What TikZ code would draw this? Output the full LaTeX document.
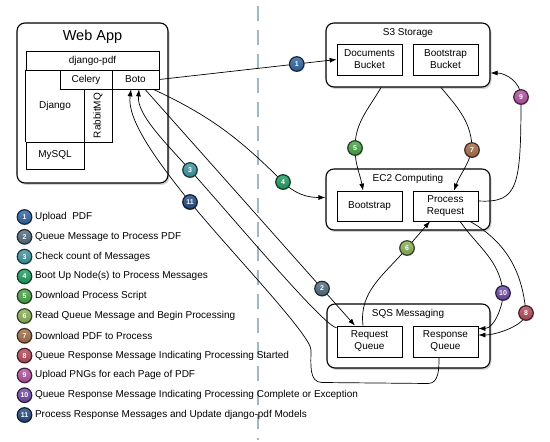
\documentclass[tikz,border=0pt]{standalone}
\usepackage{fontspec}
\setmainfont{Liberation Sans}
\usetikzlibrary{arrows.meta,calc,shadows}
\definecolor{bOne}{HTML}{3062A0}
\definecolor{bTwo}{HTML}{506B7E}
\definecolor{bThree}{HTML}{3C929E}
\definecolor{bFour}{HTML}{1E9A62}
\definecolor{bFive}{HTML}{48A048}
\definecolor{bSix}{HTML}{88AC58}
\definecolor{bSeven}{HTML}{A06C48}
\definecolor{bEight}{HTML}{B04A5A}
\definecolor{bNine}{HTML}{B0509E}
\definecolor{bTen}{HTML}{6C48A4}
\definecolor{bEleven}{HTML}{22487E}
\definecolor{divider}{HTML}{9DB8CA}

\begin{document}
\begin{tikzpicture}[x=1pt,y=1pt]
	\tikzstyle{group} = [draw, fill=white, rounded corners=8pt, line width=1.1pt, drop shadow={shadow xshift=1.5pt, shadow yshift=-2pt, opacity=0.35}]
	\tikzstyle{cell} = [draw, fill=white, inner sep=0pt, line width=0.7pt, align=center, font=\fontsize{10}{12}\selectfont]
	\tikzstyle{title} = [font=\fontsize{10}{12}\selectfont]
	\tikzstyle{flow} = [line width=0.7pt, -{Latex[length=7pt,width=5pt]}]
	\tikzset{badge/.style={circle, minimum size=14.5pt, inner sep=0pt, line width=1.2pt, draw=#1!40!black, top color=#1!80!white, bottom color=#1!90!black, text=white, font=\bfseries\fontsize{7}{8}\selectfont, drop shadow={shadow xshift=0.8pt, shadow yshift=-1pt, opacity=0.3}}}
	\useasboundingbox (0,0) rectangle (550,442);

	% divider between the web app and the cloud side
	\draw[divider, line width=2.6pt, dash pattern=on 15pt off 9pt] (258,436) -- (258,2);

	% web app
	\node[group, minimum width=151, minimum height=160] (webapp) at (92.5,339) {};
	\node[font=\fontsize{14.5}{16}\selectfont] (webtitle) at (92.5,405) {Web App};
	\node[cell, minimum width=133, minimum height=19] (djpdf) at (92.5,381.5) {django-pdf};
	\node[cell, minimum width=52, minimum height=19] (celery) at (86,362.5) {Celery};
	\node[cell, minimum width=47, minimum height=19] (boto) at (135.5,362.5) {Boto};
	\node[cell, draw=none, fill=none, minimum width=58, minimum height=72] (django) at (55,336) {Django};
	\node[cell, rotate=90, minimum width=53, minimum height=28] (rabbit) at (98,326.5) {RabbitMQ};
	\node[cell, minimum width=58, minimum height=27] (mysql) at (55,286.5) {MySQL};
	\draw[line width=0.7pt] (django.north west) -- (django.south west);

	% S3
	\node[group, minimum width=164, minimum height=64] (s3) at (408,387) {};
	\node[title] (s3title) at (408,409) {S3 Storage};
	\node[cell, minimum width=65, minimum height=31] (docs) at (369.5,382.5) {Documents\\Bucket};
	\node[cell, minimum width=65, minimum height=31] (bootbucket) at (445.5,382.5) {Bootstrap\\Bucket};

	% EC2
	\node[group, minimum width=164, minimum height=61] (ec2) at (408,242.5) {};
	\node[title] (ec2title) at (408,263) {EC2 Computing};
	\node[cell, minimum width=65, minimum height=30] (boot) at (369.5,236) {Bootstrap};
	\node[cell, minimum width=65, minimum height=30] (proc) at (445.5,236) {Process\\Request};

	% SQS
	\node[group, minimum width=163, minimum height=64] (sqs) at (408.5,106) {};
	\node[title] (sqstitle) at (408,128) {SQS Messaging};
	\node[cell, minimum width=65, minimum height=31] (reqq) at (369.5,100.5) {Request\\Queue};
	\node[cell, minimum width=65, minimum height=31] (respq) at (445.5,100.5) {Response\\Queue};

	% points where the steps are marked
	\coordinate (p3) at (190,272);
	\coordinate (p4) at (283,260);
	\coordinate (p5) at (355,294);
	\coordinate (p6) at (407,194);
	\coordinate (p7) at (472,292);
	\coordinate (p8) at (526,129);
	\coordinate (p9) at (521,345);
	\coordinate (p10) at (503,149);
	\coordinate (p11) at (190,240);
	\coordinate (k11) at (428,58.5);
	\coordinate (l11) at (322,59.5);
	\coordinate (m11) at (311,92);

	% steps
	\draw[flow] (boto.east) -- node[badge=bOne, pos=0.775] (b1) {1} (docs.west);
	\draw[flow] ([xshift=9.5pt]boto.south) -- node[badge=bTwo, pos=0.843] (b2) {2} ([xshift=-14.5pt]reqq.north);
	\draw[flow] ([yshift=-2pt]reqq.north west) to[out=180, in=-48, out distance=12, in distance=60] (p3) to[out=132, in=-95, out distance=40, in distance=25] ([xshift=3.5pt]boto.south);
	\draw[flow] ([xshift=-6pt]boto.south east) to[out=-25, in=135] (p4) to[out=-45, in=180] ([yshift=2pt]ec2.west);
	\draw[flow] ([xshift=-27pt]s3.south) to[out=-120, in=90] (p5) to[out=-90, in=100] ([xshift=-6.5pt]boot.north);
	\draw[flow] ([xshift=-6.5pt]reqq.north) to[out=97, in=-130] (p6) -- ([xshift=-15.5pt]proc.south);
	\draw[flow] ([xshift=33pt]s3.south) to[out=-50, in=90] (p7) to[out=-105, in=70] ([xshift=8.5pt]proc.north);
	\draw[flow] ([xshift=24.5pt]proc.south) to[out=-30, in=95] (p8) to[out=-90, in=0, out distance=12, in distance=18] ([yshift=6.5pt]respq.east);
	\draw[flow] ([yshift=5pt]proc.east) to[out=-3, in=-90, out distance=40, in distance=90] (p9) to[out=90, in=0, out distance=15, in distance=15] ([yshift=-18pt]s3.east);
	\draw[flow] ([xshift=14.5pt]proc.south) to[out=-55, in=95] (p10) to[out=-88, in=0, out distance=12, in distance=16] ([yshift=13pt]respq.east);
	\draw[flow] ([xshift=-6.5pt]respq.south) to[out=-90, in=0] (k11) -- (l11) to[out=180, in=-90] (m11) to[out=90, in=-51, out distance=15, in distance=60] (p11) to[out=129, in=-98, out distance=55, in distance=30] ([xshift=-4.5pt]boto.south);

	\node[badge=bThree] (b3) at (p3) {3};
	\node[badge=bFour] (b4) at (p4) {4};
	\node[badge=bFive] (b5) at (p5) {5};
	\node[badge=bSix] (b6) at (p6) {6};
	\node[badge=bSeven] (b7) at (p7) {7};
	\node[badge=bEight] (b8) at (p8) {8};
	\node[badge=bNine] (b9) at (p9) {9};
	\node[badge=bTen] (b10) at (p10) {10};
	\node[badge=bEleven] (b11) at (p11) {11};

	% legend
	\foreach \idx/\col/\txt [count=\row from 0] in {1/bOne/{Upload\ \ PDF}, 2/bTwo/{Queue Message to Process PDF}, 3/bThree/{Check count of Messages}, 4/bFour/{Boot Up Node(s) to Process Messages}, 5/bFive/{Download Process Script}, 6/bSix/{Read Queue Message and Begin Processing}, 7/bSeven/{Download PDF to Process}, 8/bEight/{Queue Response Message Indicating Processing Started}, 9/bNine/{Upload PNGs for each Page of PDF}, 10/bTen/{Queue Response Message Indicating Processing Complete or Exception}, 11/bEleven/{Process Response Messages and Update django-pdf Models}}
	{
		\node[badge=\col] (key\idx) at (24.5,{225-19.8*\row}) {\idx};
		\node[anchor=west, font=\fontsize{10}{12}\selectfont] (keytext\idx) at (31.5,{225-19.8*\row}) {\txt};
	}
\end{tikzpicture}
\end{document}
